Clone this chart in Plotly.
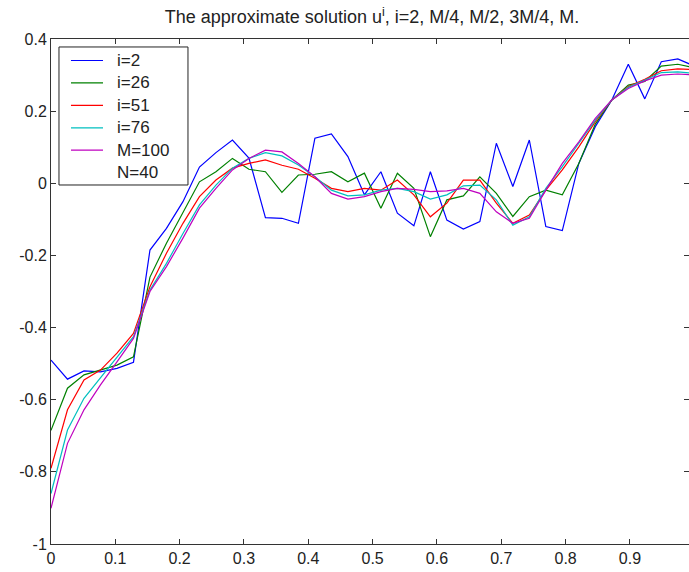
import numpy as np
import plotly.graph_objects as go

# grid: N=40 nodes on [0, 1]
x = np.linspace(0.0, 1.0, 40)

u_i2 = [-0.49, -0.543, -0.52, -0.523, -0.513, -0.496, -0.185, -0.125, -0.051, 0.045,
        0.085, 0.12, 0.07, -0.095, -0.097, -0.111, 0.125, 0.137, 0.074, -0.032,
        0.032, -0.083, -0.118, 0.032, -0.102, -0.127, -0.106, 0.111, -0.009, 0.12,
        -0.12, -0.131, 0.055, 0.157, 0.231, 0.33, 0.234, 0.337, 0.345, 0.325]
u_i26 = [-0.685, -0.568, -0.531, -0.518, -0.504, -0.481, -0.26, -0.166, -0.079, 0.004,
         0.032, 0.069, 0.039, 0.032, -0.025, 0.023, 0.025, 0.032, 0.004, 0.028,
         -0.069, 0.028, -0.014, -0.148, -0.046, -0.035, 0.018, -0.028, -0.092, -0.037,
         -0.019, -0.032, 0.055, 0.164, 0.231, 0.272, 0.282, 0.325, 0.33, 0.32]
u_i51 = [-0.79, -0.628, -0.545, -0.518, -0.471, -0.416, -0.287, -0.194, -0.111, -0.037,
         0.009, 0.042, 0.055, 0.065, 0.05, 0.039, 0.014, -0.014, -0.023, -0.014,
         -0.019, 0.009, -0.032, -0.093, -0.055, 0.009, 0.009, -0.055, -0.111, -0.088,
         -0.019, 0.037, 0.101, 0.171, 0.231, 0.268, 0.288, 0.312, 0.317, 0.315]
u_i76 = [-0.86, -0.684, -0.596, -0.54, -0.481, -0.425, -0.296, -0.222, -0.139, -0.06,
         -0.005, 0.042, 0.069, 0.085, 0.076, 0.051, 0.018, -0.019, -0.035, -0.032,
         -0.019, -0.014, -0.023, -0.044, -0.032, -0.007, -0.005, -0.046, -0.116, -0.093,
         -0.014, 0.046, 0.111, 0.175, 0.231, 0.266, 0.286, 0.307, 0.309, 0.305]
u_M100 = [-0.901, -0.721, -0.628, -0.559, -0.495, -0.43, -0.30, -0.231, -0.152, -0.069,
          -0.014, 0.037, 0.069, 0.092, 0.087, 0.055, 0.018, -0.028, -0.044, -0.037,
          -0.023, -0.014, -0.017, -0.023, -0.021, -0.014, -0.028, -0.079, -0.111, -0.097,
          -0.019, 0.055, 0.115, 0.18, 0.231, 0.263, 0.284, 0.30, 0.303, 0.30]

series_names = ["i=2", "i=26", "i=51", "i=76", "M=100"]
series_values = [u_i2, u_i26, u_i51, u_i76, u_M100]
series_colors = ["#0000FF", "#008000", "#FF0000", "#00BFBF", "#BF00BF"]
extra_legend_text = "N=40"

x_ticks = [0, 0.1, 0.2, 0.3, 0.4, 0.5, 0.6, 0.7, 0.8, 0.9]
x_tick_labels = ["0", "0.1", "0.2", "0.3", "0.4", "0.5", "0.6", "0.7", "0.8", "0.9"]
y_ticks = [-1, -0.8, -0.6, -0.4, -0.2, 0, 0.2, 0.4]
y_tick_labels = ["-1", "-0.8", "-0.6", "-0.4", "-0.2", "0", "0.2", "0.4"]

FONT = "Liberation Sans, Arial, Helvetica, sans-serif"
INK = "#222222"

fig = go.Figure()
for name, vals, col in zip(series_names, series_values, series_colors):
    fig.add_trace(go.Scatter(x=x, y=vals, mode="lines", name=name,
                             line=dict(color=col, width=1.2), showlegend=False))

# boxed legend in the upper-left corner (paper coordinates)
box_x0, box_x1 = 0.0125, 0.2147
box_y0, box_y1 = 0.7109, 0.9842
row_top, row_step = 0.9574, 0.0444
sample_x0, sample_x1, text_x = 0.0313, 0.0815, 0.1003

shapes = [dict(type="rect", xref="paper", yref="paper",
               x0=box_x0, x1=box_x1, y0=box_y0, y1=box_y1,
               line=dict(color=INK, width=1), fillcolor="white", layer="above")]
annotations = []
legend_labels = series_names + [extra_legend_text]
for j, label in enumerate(legend_labels):
    ry = row_top - j * row_step
    if j < len(series_colors):
        shapes.append(dict(type="line", xref="paper", yref="paper",
                           x0=sample_x0, x1=sample_x1, y0=ry, y1=ry,
                           line=dict(color=series_colors[j], width=1.2), layer="above"))
    annotations.append(dict(text=label, xref="paper", yref="paper", x=text_x, y=ry,
                            xanchor="left", yanchor="middle", showarrow=False,
                            font=dict(family=FONT, size=17, color=INK)))

axis_common = dict(
    showline=True, linecolor="#333333", linewidth=1, mirror="ticks",
    ticks="inside", ticklen=5, tickcolor="#333333", tickwidth=1,
    showgrid=False, zeroline=False,
    tickfont=dict(family=FONT, size=16, color=INK),
)

fig.update_layout(
    width=689, height=572,
    margin=dict(l=51, r=0, t=39, b=28),
    paper_bgcolor="white", plot_bgcolor="white",
    title=dict(text="The approximate solution u<sup>i</sup>, i=2, M/4, M/2, 3M/4, M.",
               xref="container", x=0.54, xanchor="center",
               yref="container", y=0.97, yanchor="middle",
               font=dict(family=FONT, size=18, color=INK)),
    xaxis=dict(range=[0, 0.9918], tickvals=x_ticks, ticktext=x_tick_labels, **axis_common),
    yaxis=dict(range=[-1, 0.4], tickvals=y_ticks, ticktext=y_tick_labels, **axis_common),
    shapes=shapes,
    annotations=annotations,
    showlegend=False,
)

fig.write_html("out.html")
